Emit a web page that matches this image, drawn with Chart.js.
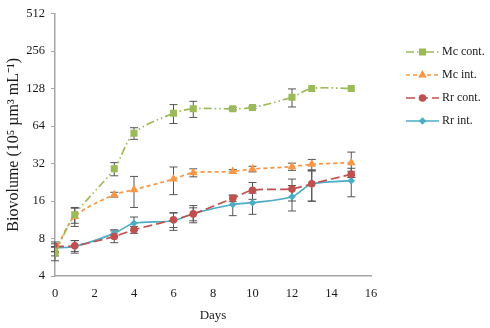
<!DOCTYPE html>
<html>
<head>
<meta charset="utf-8">
<script src="https://cdn.jsdelivr.net/npm/chart.js@4/dist/chart.umd.min.js"></script>
<style>
  html, body { margin: 0; padding: 0; background: #fff; }
  #wrap { width: 490px; height: 328px; }
</style>
</head>
<body>
<div id="wrap"><canvas id="bio"></canvas></div>
<script>
const days = [0, 1, 3, 4, 6, 7, 9, 10, 12, 13, 15];
const yTicks = [4, 8, 16, 32, 64, 128, 256, 512];

const mcCont = [6.1, 12.4, 29, 56, 81, 88, 88, 90, 109, 128, 128];
const mcContErr = [0.8, 1.8, 3.5, 6, 14, 13, 2, 2, 18, 0, 0];
const mcInt = [6.3, 12, 18, 19.7, 24, 27, 27.6, 28.9, 30.2, 31.5, 32.5];
const mcIntErr = [0.5, 2, 0.8, 5.5, 6, 2, 1, 1.5, 2, 3, 7];
const rrCont = [6.9, 7.0, 8.3, 9.4, 11.3, 12.6, 16.8, 19.5, 20, 22, 26.2];
const rrContErr = [0.6, 0.7, 0.9, 0.6, 1.5, 1.5, 1, 3, 4, 6, 1.5];
const rrInt = [6.75, 6.9, 8.8, 10.6, 11.1, 12.7, 15, 15.5, 17.3, 21.9, 23.3];
const rrIntErr = [0.5, 0.8, 0.6, 1.3, 1.8, 2, 2.8, 3, 4, 6, 6];

const serif = '"Liberation Serif", "Times New Roman", serif';
const axisColor = '#a6a6a6';
const textColor = '#1a1a1a';

function series(label, values, errors, color, dash, pointStyle, radius) {
  return {
    label,
    data: days.map((d, i) => ({ x: d, y: values[i] })),
    errors,
    borderColor: color,
    backgroundColor: color,
    borderWidth: 1.7,
    borderDash: dash,
    pointStyle,
    pointRadius: radius,
    pointHoverRadius: radius,
    pointBorderWidth: 0,
    tension: 0.3,
  };
}

// vertical +/- bars with caps, drawn under the lines
const errorBars = {
  id: 'errorBars',
  beforeDatasetsDraw(chart) {
    const { ctx } = chart;
    const y = chart.scales.y;
    ctx.save();
    ctx.strokeStyle = '#555';
    ctx.lineWidth = 1;
    chart.data.datasets.forEach((ds, di) => {
      const meta = chart.getDatasetMeta(di);
      meta.data.forEach((pt, i) => {
        const e = ds.errors[i];
        if (!e) return;
        const v = ds.data[i].y;
        const top = y.getPixelForValue(v + e);
        const bot = y.getPixelForValue(Math.max(v - e, 0.01));
        ctx.beginPath();
        ctx.moveTo(pt.x, top); ctx.lineTo(pt.x, bot);
        ctx.moveTo(pt.x - 4, top); ctx.lineTo(pt.x + 4, top);
        ctx.moveTo(pt.x - 4, bot); ctx.lineTo(pt.x + 4, bot);
        ctx.stroke();
      });
    });
    ctx.restore();
  },
};

// legend with line + marker samples, to the right of the plot
const sideLegend = {
  id: 'sideLegend',
  afterDraw(chart) {
    const { ctx, chartArea } = chart;
    const x0 = chartArea.right + 35;
    const lineLen = 33;
    ctx.save();
    ctx.font = '12px ' + serif;
    ctx.textBaseline = 'middle';
    chart.data.datasets.forEach((ds, i) => {
      const yy = 52 + i * 23;
      ctx.strokeStyle = ds.borderColor;
      ctx.lineWidth = ds.borderWidth;
      ctx.setLineDash(ds.borderDash || []);
      ctx.beginPath();
      ctx.moveTo(x0, yy); ctx.lineTo(x0 + lineLen, yy);
      ctx.stroke();
      ctx.setLineDash([]);
      ctx.fillStyle = ds.backgroundColor;
      Chart.helpers.drawPoint(ctx, { pointStyle: ds.pointStyle, radius: ds.pointRadius, borderWidth: 0 }, x0 + lineLen / 2, yy);
      ctx.fillStyle = textColor;
      ctx.fillText(ds.label, x0 + lineLen + 3, yy);
    });
    ctx.restore();
  },
};

new Chart(document.getElementById('bio'), {
  type: 'line',
  data: {
    datasets: [
      series('Mc cont.', mcCont, mcContErr, '#9bbb59', [8, 3, 1.5, 3, 1.5, 3], 'rect', 5),
      series('Mc int.', mcInt, mcIntErr, '#f79646', [4, 3], 'triangle', 5),
      series('Rr cont.', rrCont, rrContErr, '#c0504d', [9, 4], 'circle', 3.8),
      series('Rr int.', rrInt, rrIntErr, '#4bacc6', [], 'rectRot', 3.8),
    ],
  },
  options: {
    responsive: true,
    maintainAspectRatio: false,
    animation: false,
    layout: { padding: { top: 9, right: 119, left: 0, bottom: 0 } },
    plugins: { legend: { display: false }, tooltip: { enabled: false } },
    scales: {
      x: {
        type: 'linear',
        min: 0,
        max: 16,
        ticks: { stepSize: 2, padding: 10, color: textColor, font: { family: serif, size: 12.5 } },
        grid: { display: false, drawTicks: false },
        border: { color: axisColor, width: 1.5 },
        title: { display: true, text: 'Days', color: textColor, font: { family: serif, size: 13 }, padding: { top: 4, bottom: 5 } },
        afterFit: (s) => { s.height = 52; },
      },
      y: {
        type: 'logarithmic',
        min: 4,
        max: 512,
        afterBuildTicks: (axis) => { axis.ticks = yTicks.map((v) => ({ value: v })); },
        ticks: { callback: (v) => String(v), padding: 6, color: textColor, font: { family: serif, size: 12.5 } },
        grid: { drawOnChartArea: false, tickLength: 4, color: axisColor },
        border: { color: axisColor, width: 1.5 },
        title: { display: true, text: 'Biovolume (10⁵ µm³ mL⁻¹)', color: textColor, font: { family: serif, size: 16 }, padding: { top: 4, bottom: 0 } },
        afterFit: (s) => { s.width = 55; },
      },
    },
  },
  plugins: [errorBars, sideLegend],
});
</script>
</body>
</html>
